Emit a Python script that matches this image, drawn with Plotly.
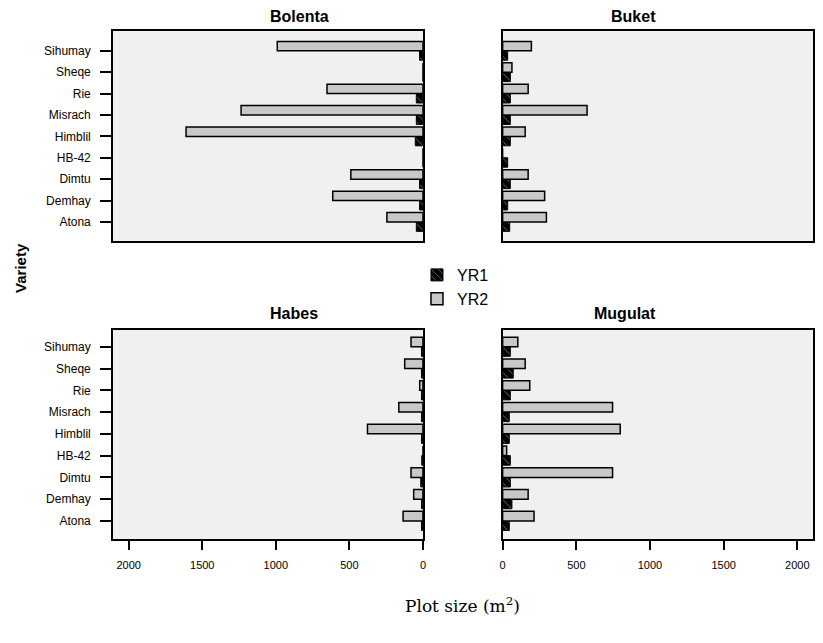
import plotly.graph_objects as go

varieties = ["Atona", "Demhay", "Dimtu", "HB-42", "Himblil", "Misrach", "Rie", "Sheqe", "Sihumay"]
panels = ["Bolenta", "Buket", "Habes", "Mugulat"]

# values in order of `varieties` (bottom to top)
bolenta_yr1 = [45, 23, 23, 0, 52, 45, 45, 0, 23]
bolenta_yr2 = [245, 613, 490, 0, 1610, 1236, 652, 0, 990]
buket_yr1 = [48, 34, 52, 34, 52, 52, 52, 52, 34]
buket_yr2 = [297, 285, 173, 0, 153, 573, 173, 63, 195]
habes_yr1 = [10, 10, 15, 8, 10, 10, 10, 10, 10]
habes_yr2 = [135, 63, 81, 0, 377, 164, 22, 124, 81]
mugulat_yr1 = [45, 63, 52, 52, 45, 45, 52, 72, 52]
mugulat_yr2 = [213, 173, 746, 27, 798, 746, 184, 153, 103]

x_ticks = [0, 500, 1000, 1500, 2000]
x_max = 2107

data = {
    "Bolenta": (bolenta_yr1, bolenta_yr2),
    "Buket": (buket_yr1, buket_yr2),
    "Habes": (habes_yr1, habes_yr2),
    "Mugulat": (mugulat_yr1, mugulat_yr2),
}

# page body offsets the figure by 8px; size figure to fit the window
OFF = 8
W, H = 823 - OFF, 643 - OFF


def fx(px):
    return (px - OFF) / W


def fy(py):
    return 1 - (py - OFF) / H


fig = go.Figure()

for i, name in enumerate(panels):
    yr1, yr2 = data[name]
    ax = "" if i == 0 else str(i + 1)
    fig.add_trace(go.Bar(
        name="YR1", y=varieties, x=yr1, orientation="h",
        xaxis="x" + ax, yaxis="y" + ax,
        marker=dict(color="black", line=dict(color="black", width=1),
                    pattern=dict(shape="\\", fgcolor="white", bgcolor="black", size=6, solidity=0.15)),
        showlegend=(i == 0), legendgroup="YR1",
    ))
    fig.add_trace(go.Bar(
        name="YR2", y=varieties, x=yr2, orientation="h",
        xaxis="x" + ax, yaxis="y" + ax,
        marker=dict(color="#c8c8c8", line=dict(color="black", width=1.5)),
        showlegend=(i == 0), legendgroup="YR2",
    ))

left_dom = [fx(110.7), fx(423)]
right_dom = [fx(503.3), fx(816)]
top_dom = [fy(241), fy(30.7)]
bot_dom = [fy(539), fy(330)]

layout = dict(
    width=W, height=H,
    margin=dict(l=0, r=0, t=0, b=0),
    paper_bgcolor="white", plot_bgcolor="#f0f0f0",
    barmode="group", bargap=0.12, bargroupgap=0.0,
    font=dict(family="Liberation Sans, Arial, sans-serif", color="black"),
    legend=dict(x=fx(417), y=fy(258), xanchor="left", yanchor="top",
                font=dict(size=16), bgcolor="rgba(0,0,0,0)", tracegroupgap=0,
                itemwidth=30),
)

doms = [(left_dom, top_dom), (right_dom, top_dom), (left_dom, bot_dom), (right_dom, bot_dom)]
for i, name in enumerate(panels):
    sfx = "" if i == 0 else str(i + 1)
    xd, yd = doms[i]
    is_left = i in (0, 2)
    is_bottom = i in (2, 3)
    xaxis = dict(
        domain=xd, anchor="y" + sfx,
        range=[x_max, 0] if is_left else [0, x_max],
        showgrid=False, zeroline=False,
        showline=True, mirror=True, linecolor="black", linewidth=1.5,
        tickvals=x_ticks, ticktext=[str(v) for v in x_ticks],
        ticks="outside" if is_bottom else "", ticklen=9, tickwidth=1.5, tickcolor="black",
        showticklabels=is_bottom, tickfont=dict(size=11), ticklabelstandoff=6,
    )
    yr = [-0.89, 8.94] if i < 2 else [-0.83, 8.77]
    yaxis = dict(
        domain=yd, anchor="x" + sfx,
        type="category", categoryorder="array", categoryarray=varieties,
        range=yr,
        showgrid=False, zeroline=False,
        showline=True, mirror=True, linecolor="black", linewidth=1.5,
        ticks="outside" if is_left else "", ticklen=11, tickwidth=1.5, tickcolor="black",
        showticklabels=is_left, tickfont=dict(size=12), ticklabelstandoff=7,
    )
    layout["xaxis" + sfx] = xaxis
    layout["yaxis" + sfx] = yaxis

fig.update_layout(**layout)

title_y = [fy(16), fy(16), fy(313), fy(313)]
for i, name in enumerate(panels):
    xd, _ = doms[i]
    fig.add_annotation(text="<b>" + name + "</b>", x=(xd[0] + xd[1]) / 2, y=title_y[i],
                       xref="paper", yref="paper", showarrow=False, yanchor="middle",
                       font=dict(size=16, family="Liberation Sans, Arial, sans-serif"))

fig.add_annotation(text="<b>Variety</b>", x=fx(18), y=fy(268), xref="paper", yref="paper",
                   showarrow=False, textangle=-90, xanchor="center", yanchor="middle",
                   font=dict(size=15))
fig.add_annotation(text="Plot size (m<sup>2</sup>)", x=fx(463), y=fy(605), xref="paper", yref="paper",
                   showarrow=False, xanchor="center", yanchor="middle",
                   font=dict(size=17, family="DejaVu Serif, Liberation Serif, serif"))

fig.write_html("out.html")
